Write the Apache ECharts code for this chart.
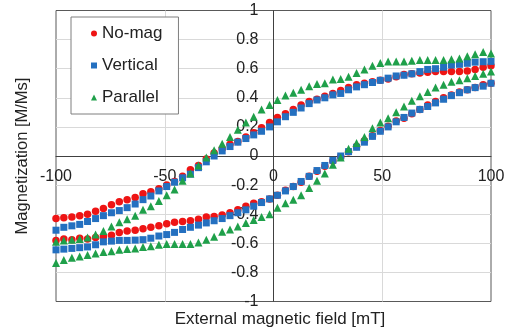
<!DOCTYPE html>
<html><head><meta charset="utf-8">
<script src="https://cdn.jsdelivr.net/npm/echarts@6/dist/echarts.min.js"></script>
<style>html,body{margin:0;padding:0;background:#fff}#c{width:510px;height:335px}</style>
</head><body><div id="c"></div>
<script>
// External magnetic field [mT] (shared x positions of each branch)
const fieldMT = [-100,-96.4,-92.7,-89.1,-85.5,-81.8,-78.2,-74.5,-70.9,-67.3,-63.6,-60,-56.4,-52.7,-49.1,-45.5,-41.8,-38.2,-34.5,-30.9,-27.3,-23.6,-20,-16.4,-12.7,-9.1,-5.5,-1.8,
  1.8,5.5,9.1,12.7,16.4,20,23.6,27.3,30.9,34.5,38.2,41.8,45.5,49.1,52.7,56.4,60,63.6,67.3,70.9,74.5,78.2,81.8,85.5,89.1,92.7,96.4,100];

// No-mag
const noMagUpper = [-0.43,-0.425,-0.42,-0.41,-0.40,-0.38,-0.36,-0.335,-0.315,-0.30,-0.285,-0.26,-0.245,-0.225,-0.20,-0.175,-0.14,-0.095,-0.065,-0.02,0.02,0.05,0.08,0.10,0.13,0.16,0.195,0.23,
  0.265,0.29,0.32,0.35,0.375,0.39,0.41,0.43,0.45,0.47,0.49,0.50,0.51,0.52,0.53,0.545,0.56,0.565,0.57,0.575,0.58,0.58,0.58,0.58,0.585,0.595,0.61,0.62];
const noMagLower = [-0.58,-0.57,-0.575,-0.565,-0.57,-0.56,-0.555,-0.545,-0.525,-0.515,-0.51,-0.50,-0.49,-0.48,-0.465,-0.455,-0.45,-0.445,-0.435,-0.42,-0.415,-0.405,-0.39,-0.37,-0.345,-0.325,-0.315,-0.295,
  -0.27,-0.235,-0.21,-0.18,-0.14,-0.105,-0.07,-0.035,-0.005,0.03,0.065,0.105,0.14,0.175,0.205,0.24,0.26,0.29,0.32,0.35,0.375,0.40,0.42,0.44,0.455,0.47,0.49,0.50];

// Vertical
const verticalUpper = [-0.51,-0.49,-0.48,-0.47,-0.45,-0.43,-0.41,-0.39,-0.375,-0.355,-0.33,-0.30,-0.275,-0.24,-0.21,-0.18,-0.15,-0.125,-0.08,-0.04,0.0,0.035,0.065,0.095,0.12,0.145,0.17,0.20,
  0.235,0.27,0.30,0.33,0.36,0.385,0.40,0.42,0.43,0.455,0.475,0.49,0.505,0.52,0.535,0.55,0.555,0.565,0.58,0.595,0.60,0.61,0.625,0.63,0.637,0.645,0.648,0.65];
const verticalLower = [-0.645,-0.64,-0.635,-0.63,-0.625,-0.61,-0.59,-0.585,-0.58,-0.58,-0.578,-0.575,-0.565,-0.55,-0.54,-0.525,-0.505,-0.49,-0.475,-0.46,-0.445,-0.43,-0.41,-0.39,-0.37,-0.345,-0.32,-0.295,
  -0.27,-0.24,-0.21,-0.175,-0.14,-0.10,-0.065,-0.03,0.0,0.03,0.06,0.095,0.135,0.17,0.20,0.235,0.265,0.295,0.32,0.34,0.365,0.39,0.415,0.435,0.455,0.47,0.48,0.50];

// Parallel
const parallelUpper = [-0.59,-0.58,-0.575,-0.57,-0.56,-0.54,-0.515,-0.485,-0.455,-0.435,-0.41,-0.37,-0.345,-0.31,-0.27,-0.23,-0.17,-0.12,-0.065,-0.01,0.04,0.085,0.13,0.18,0.23,0.27,0.32,0.35,
  0.385,0.415,0.435,0.455,0.48,0.495,0.50,0.525,0.53,0.545,0.57,0.595,0.62,0.64,0.65,0.65,0.65,0.655,0.66,0.66,0.66,0.66,0.665,0.67,0.685,0.70,0.715,0.705];
const parallelLower = [-0.735,-0.715,-0.70,-0.69,-0.68,-0.67,-0.66,-0.655,-0.645,-0.64,-0.635,-0.625,-0.62,-0.61,-0.605,-0.605,-0.605,-0.605,-0.595,-0.575,-0.555,-0.52,-0.505,-0.485,-0.46,-0.44,-0.42,-0.40,
  -0.355,-0.325,-0.30,-0.27,-0.22,-0.17,-0.12,-0.06,-0.01,0.05,0.09,0.13,0.19,0.23,0.26,0.30,0.34,0.38,0.41,0.44,0.47,0.49,0.51,0.52,0.535,0.55,0.565,0.58];

const seriesNames = ['No-mag', 'Vertical', 'Parallel'];
const xTitle = 'External magnetic field [mT]';
const yTitle = 'Magnetization [M/Ms]';

function loop(upper, lower) {
  const d = [];
  fieldMT.forEach((x, i) => d.push([x, upper[i]]));
  fieldMT.forEach((x, i) => d.push([x, lower[i]]));
  return d;
}

const GRID = {left: 56, right: 19, top: 10.5, bottom: 33.5};
const W = 510, H = 335;
const plotW = W - GRID.left - GRID.right;
const plotH = H - GRID.top - GRID.bottom;
const X_MIN = -100, X_MAX = 100, Y_MIN = -1, Y_MAX = 1;
// move each axis (line + labels) so it crosses the other at zero, as in the reference
const yAxisOffset = -plotW * (0 - X_MIN) / (X_MAX - X_MIN);
const xAxisOffset = -plotH * (0 - Y_MIN) / (Y_MAX - Y_MIN);

const FONT = '"Liberation Sans", Arial, sans-serif';
const chart = echarts.init(document.getElementById('c'), null, {renderer: 'canvas'});
chart.setOption({
  animation: false,
  backgroundColor: '#fff',
  grid: Object.assign({show: true, borderColor: '#595959', borderWidth: 1, backgroundColor: 'transparent'}, GRID),
  xAxis: {
    type: 'value', min: X_MIN, max: X_MAX, interval: 50,
    offset: xAxisOffset,
    axisLine: {onZero: false, lineStyle: {color: '#404040', width: 1}},
    axisTick: {show: false},
    axisLabel: {fontFamily: FONT, fontSize: 16, color: '#222', margin: 13},
    splitLine: {show: true, showMinLine: false, showMaxLine: false, lineStyle: {color: '#d9d9d9', width: 1}}
  },
  yAxis: {
    type: 'value', min: Y_MIN, max: Y_MAX, interval: 0.2,
    offset: yAxisOffset,
    axisLine: {onZero: false, lineStyle: {color: '#404040', width: 1}},
    axisTick: {show: false},
    axisLabel: {fontFamily: FONT, fontSize: 16, color: '#222', margin: 15},
    splitLine: {show: true, showMinLine: false, showMaxLine: false, lineStyle: {color: '#d9d9d9', width: 1}}
  },
  legend: {
    orient: 'vertical', left: 71, top: 17,
    padding: [8, 16, 8, 20],
    itemGap: 15, itemWidth: 6, itemHeight: 6, itemTextGap: 6,
    borderColor: '#7f7f7f', borderWidth: 1, backgroundColor: '#fff',
    textStyle: {fontFamily: FONT, fontSize: 17, color: '#222', lineHeight: 17},
    data: [
      {name: seriesNames[0], icon: 'circle'},
      {name: seriesNames[1], icon: 'rect'},
      {name: seriesNames[2], icon: 'triangle'}
    ]
  },
  graphic: [
    {type: 'text', x: 280, y: 319, style: {text: xTitle, font: '17px ' + FONT, fill: '#222', textAlign: 'center', textVerticalAlign: 'middle'}},
    {type: 'text', x: 22, y: 156, rotation: Math.PI / 2, style: {text: yTitle, font: '16.5px ' + FONT, fill: '#222', textAlign: 'center', textVerticalAlign: 'middle'}}
  ],
  series: [
    {name: seriesNames[0], type: 'scatter', symbol: 'circle', symbolSize: 7.5, itemStyle: {color: '#ee1414', opacity: 1}, data: loop(noMagUpper, noMagLower)},
    {name: seriesNames[1], type: 'scatter', symbol: 'rect', symbolSize: 7, itemStyle: {color: '#2470c0', opacity: 1}, data: loop(verticalUpper, verticalLower)},
    {name: seriesNames[2], type: 'scatter', symbol: 'triangle', symbolSize: 8, itemStyle: {color: '#1fa04a', opacity: 1}, data: loop(parallelUpper, parallelLower)}
  ]
});
</script>
</body></html>
